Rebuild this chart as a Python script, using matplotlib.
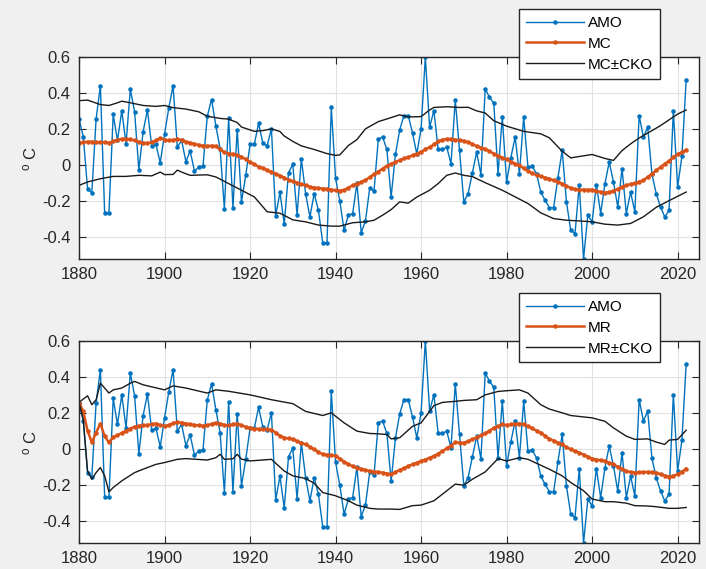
import numpy as np
import matplotlib
matplotlib.use("Agg")
import matplotlib.pyplot as plt
from matplotlib.ticker import FixedLocator

plt.rcParams['font.family'] = ['Liberation Sans', 'DejaVu Sans']
plt.rcParams['axes.unicode_minus'] = False
plt.rcParams['mathtext.default'] = 'regular'

# annual AMO index 1880-2022
years = np.arange(1880, 2023)
amo = [0.255, 0.157, -0.133, -0.157, 0.255, 0.44, -0.27, -0.27, 0.28, 0.135,
       0.30, 0.117, 0.42, 0.296, -0.028, 0.185, 0.305, 0.104, 0.113, 0.011,
       0.17, 0.317, 0.44, 0.098, 0.135, 0.018, 0.076, -0.035, -0.013, -0.007,
       0.27, 0.363, 0.218, 0.089, -0.244, 0.26, -0.24, 0.196, -0.207, -0.059,
       0.113, 0.113, 0.231, 0.12, 0.106, 0.2, -0.283, -0.154, -0.33, -0.044,
       0.002, -0.278, 0.033, -0.161, -0.291, -0.161, -0.254, -0.435, -0.435, 0.32,
       -0.074, -0.204, -0.365, -0.28, -0.272, -0.102, -0.378, -0.313, -0.128, -0.146,
       0.144, 0.154, 0.085, -0.18, 0.057, 0.194, 0.274, 0.274, 0.176, 0.061,
       0.2, 0.6, 0.209, 0.302, 0.085, 0.085, 0.098, 0.006, 0.361, 0.08,
       -0.207, -0.161, -0.044, 0.07, -0.056, 0.422, 0.376, 0.343, -0.05, 0.265,
       -0.096, 0.039, 0.154, -0.05, 0.265, -0.013, -0.009, -0.05, -0.152, -0.198,
       -0.239, -0.239, -0.074, 0.08, -0.207, -0.365, -0.383, -0.111, -0.525, -0.281,
       -0.318, -0.111, -0.272, -0.106, 0.015, -0.096, -0.235, -0.022, -0.272, -0.152,
       -0.263, 0.274, 0.154, 0.209, -0.054, -0.161, -0.235, -0.291, -0.254, 0.302,
       -0.124, 0.046, 0.472]

# MC curve (top panel)
mc = [0.120, 0.125, 0.128, 0.128, 0.125, 0.126, 0.125, 0.122, 0.130, 0.138,
      0.144, 0.144, 0.142, 0.135, 0.128, 0.122, 0.120, 0.125, 0.135, 0.148,
      0.140, 0.135, 0.138, 0.144, 0.136, 0.128, 0.122, 0.116, 0.110, 0.106,
      0.104, 0.106, 0.104, 0.085, 0.070, 0.062, 0.060, 0.052, 0.045, 0.030,
      0.015, 0.002, -0.010, -0.020, -0.030, -0.040, -0.050, -0.060, -0.072, -0.085,
      -0.093, -0.100, -0.108, -0.115, -0.122, -0.128, -0.130, -0.133, -0.134, -0.138,
      -0.143, -0.145, -0.140, -0.128, -0.115, -0.105, -0.095, -0.085, -0.070, -0.052,
      -0.038, -0.022, -0.006, 0.005, 0.015, 0.025, 0.035, 0.042, 0.052, 0.062,
      0.072, 0.085, 0.098, 0.113, 0.130, 0.138, 0.144, 0.143, 0.140, 0.135,
      0.132, 0.126, 0.115, 0.103, 0.095, 0.088, 0.075, 0.062, 0.050, 0.040,
      0.030, 0.018, 0.006, -0.004, -0.020, -0.035, -0.048, -0.058, -0.065, -0.072,
      -0.078, -0.087, -0.096, -0.105, -0.118, -0.130, -0.136, -0.140, -0.138, -0.140,
      -0.139, -0.145, -0.152, -0.156, -0.152, -0.146, -0.135, -0.124, -0.115, -0.108,
      -0.102, -0.095, -0.087, -0.068, -0.050, -0.032, -0.013, 0.005, 0.022, 0.042,
      0.058, 0.070, 0.083]

# MC +/- CKO band (top panel)
mc_up_years = [1880, 1882, 1885, 1887, 1889, 1890, 1892, 1895, 1898, 1900, 1902, 1905,
               1908, 1910, 1913, 1915, 1917, 1918, 1921, 1923, 1925, 1927, 1928, 1930,
               1932, 1935, 1938, 1940, 1941, 1943, 1945, 1947, 1950, 1952, 1955, 1957,
               1960, 1962, 1963, 1966, 1969, 1971, 1973, 1975, 1977, 1980, 1984, 1988,
               1990, 1993, 1995, 1997, 2000, 2003, 2005, 2007, 2009, 2011, 2014, 2016,
               2018, 2020, 2022]
mc_up = [0.357, 0.36, 0.335, 0.33, 0.345, 0.354, 0.345, 0.33, 0.325, 0.33, 0.318, 0.31,
         0.295, 0.27, 0.258, 0.254, 0.235, 0.21, 0.186, 0.19, 0.2, 0.185, 0.16, 0.13,
         0.105, 0.085, 0.062, 0.052, 0.055, 0.107, 0.14, 0.2, 0.24, 0.255, 0.278, 0.266,
         0.268, 0.305, 0.319, 0.323, 0.319, 0.32, 0.3, 0.288, 0.245, 0.215, 0.186, 0.172,
         0.15, 0.075, 0.038, 0.046, 0.057, 0.035, 0.024, 0.079, 0.116, 0.149, 0.19, 0.218,
         0.25, 0.282, 0.305]
mc_lo_years = [1880, 1882, 1885, 1888, 1891, 1894, 1897, 1899, 1900, 1902, 1903, 1904,
               1906, 1910, 1912, 1915, 1918, 1921, 1924, 1927, 1930, 1933, 1936, 1939,
               1941, 1944, 1947, 1949, 1951, 1953, 1955, 1957, 1959, 1962, 1964, 1966,
               1968, 1970, 1972, 1975, 1979, 1982, 1985, 1988, 1991, 1994, 1997, 2000,
               2003, 2006, 2009, 2012, 2015, 2018, 2020, 2022]
mc_lo = [-0.115, -0.096, -0.078, -0.065, -0.065, -0.059, -0.062, -0.041, -0.055, -0.054,
         -0.03, -0.041, -0.059, -0.056, -0.068, -0.105, -0.142, -0.179, -0.262, -0.27,
         -0.307, -0.318, -0.336, -0.342, -0.342, -0.323, -0.318, -0.309, -0.281, -0.25,
         -0.207, -0.214, -0.18, -0.142, -0.105, -0.059, -0.046, -0.059, -0.066, -0.1,
         -0.142, -0.179, -0.216, -0.268, -0.3, -0.309, -0.313, -0.318, -0.331, -0.336,
         -0.327, -0.29, -0.237, -0.2, -0.176, -0.152]

# MR curve (bottom panel)
mr = [0.255, 0.210, 0.100, 0.035, 0.090, 0.140, 0.070, 0.035, 0.065, 0.075,
      0.088, 0.100, 0.112, 0.123, 0.128, 0.130, 0.132, 0.136, 0.140, 0.132,
      0.126, 0.132, 0.142, 0.148, 0.145, 0.140, 0.136, 0.132, 0.130, 0.128,
      0.130, 0.138, 0.145, 0.140, 0.132, 0.130, 0.136, 0.140, 0.130, 0.122,
      0.116, 0.112, 0.110, 0.108, 0.108, 0.106, 0.090, 0.072, 0.062, 0.057,
      0.052, 0.042, 0.032, 0.024, 0.010, -0.004, -0.018, -0.031, -0.034, -0.035,
      -0.040, -0.055, -0.072, -0.087, -0.097, -0.105, -0.112, -0.118, -0.124, -0.127,
      -0.130, -0.133, -0.138, -0.142, -0.130, -0.118, -0.108, -0.097, -0.087, -0.078,
      -0.068, -0.060, -0.050, -0.041, -0.027, -0.013, 0.002, 0.018, 0.035, 0.034,
      0.033, 0.042, 0.052, 0.063, 0.074, 0.085, 0.100, 0.116, 0.126, 0.135,
      0.132, 0.135, 0.138, 0.140, 0.135, 0.125, 0.113, 0.101, 0.089, 0.072,
      0.055, 0.045, 0.034, 0.024, 0.010, -0.004, -0.013, -0.022, -0.033, -0.044,
      -0.055, -0.060, -0.064, -0.068, -0.078, -0.087, -0.100, -0.112, -0.124, -0.130,
      -0.133, -0.131, -0.130, -0.129, -0.131, -0.133, -0.142, -0.150, -0.155, -0.150,
      -0.142, -0.128, -0.111]

# MR +/- CKO band (bottom panel)
mr_up_years = [1880, 1882, 1883, 1884, 1885, 1886, 1887, 1888, 1890, 1892, 1893, 1895,
               1900, 1902, 1905, 1910, 1912, 1915, 1920, 1925, 1930, 1933, 1937, 1939,
               1942, 1945, 1948, 1950, 1952, 1953, 1955, 1958, 1960, 1963, 1965, 1968,
               1970, 1973, 1975, 1978, 1980, 1983, 1985, 1988, 1990, 1993, 1995, 1998,
               2000, 2003, 2005, 2008, 2010, 2013, 2015, 2017, 2018, 2020, 2022]
mr_up = [0.258, 0.295, 0.245, 0.273, 0.365, 0.338, 0.31, 0.328, 0.338, 0.365, 0.375, 0.356,
         0.328, 0.35, 0.338, 0.31, 0.328, 0.32, 0.3, 0.273, 0.251, 0.208, 0.185, 0.2,
         0.144, 0.098, 0.085, 0.083, 0.079, 0.055, 0.061, 0.125, 0.144, 0.24, 0.258, 0.264,
         0.269, 0.273, 0.3, 0.319, 0.323, 0.328, 0.31, 0.245, 0.221, 0.2, 0.185, 0.177,
         0.172, 0.153, 0.116, 0.07, 0.052, 0.055, 0.037, 0.024, 0.048, 0.052, 0.103]
mr_lo_years = [1880, 1881, 1882, 1883, 1884, 1885, 1886, 1887, 1888, 1890, 1893, 1895,
               1898, 1900, 1903, 1905, 1910, 1912, 1913, 1914, 1916, 1917, 1918, 1920,
               1925, 1928, 1930, 1933, 1935, 1937, 1940, 1943, 1945, 1948, 1950, 1953,
               1955, 1958, 1960, 1963, 1965, 1968, 1970, 1972, 1975, 1978, 1980, 1983,
               1985, 1988, 1990, 1993, 1995, 1998, 2000, 2003, 2005, 2008, 2010, 2013,
               2015, 2018, 2020, 2022]
mr_lo = [0.258, 0.162, -0.124, -0.17, -0.133, -0.105, -0.151, -0.24, -0.216, -0.179,
         -0.133, -0.114, -0.087, -0.077, -0.059, -0.055, -0.063, -0.05, -0.031, -0.059,
         -0.056, -0.031, -0.058, -0.068, -0.059, -0.124, -0.151, -0.166, -0.192, -0.244,
         -0.262, -0.29, -0.314, -0.332, -0.336, -0.336, -0.338, -0.317, -0.314, -0.29,
         -0.253, -0.197, -0.203, -0.17, -0.129, -0.055, -0.068, -0.05, -0.059, -0.092,
         -0.114, -0.151, -0.188, -0.234, -0.28, -0.295, -0.295, -0.303, -0.317, -0.319,
         -0.323, -0.332, -0.332, -0.327]

blue = '#0072BD'
orange = '#D95319'
fig_bg = '#f0f0f0'

fig = plt.figure(figsize=(7.06, 5.69), dpi=100, facecolor=fig_bg)
ax1 = fig.add_axes([79 / 706, 1 - 259 / 569, 620 / 706, 202 / 569])
ax2 = fig.add_axes([79 / 706, 1 - 543 / 569, 620 / 706, 202 / 569])

panels = [
    (ax1, mc, mc_up_years, mc_up, mc_lo_years, mc_lo, 'MC', 'MC±CKO', 1 - 9 / 569),
    (ax2, mr, mr_up_years, mr_up, mr_lo_years, mr_lo, 'MR', 'MR±CKO', 1 - 293 / 569),
]

for ax, curve, uy, up, ly, lo, name, band_name, leg_top in panels:
    h1, = ax.plot(years, amo, '.-', color=blue, lw=1.0, ms=4.5, label='AMO')
    h2, = ax.plot(years, curve, '.-', color=orange, lw=1.8, ms=4.5, label=name)
    h3, = ax.plot(uy, up, '-', color='#1a1a1a', lw=1.0, label=band_name)
    ax.plot(ly, lo, '-', color='#1a1a1a', lw=1.0)

    ax.set_xlim(1880, 2025)
    ax.set_ylim(-0.525, 0.6)
    ax.xaxis.set_major_locator(FixedLocator(range(1880, 2021, 20)))
    ax.set_yticks([-0.4, -0.2, 0, 0.2, 0.4, 0.6])
    ax.set_yticklabels(['-0.4', '-0.2', '0', '0.2', '0.4', '0.6'])
    ax.grid(True, color='#e2e2e2', lw=0.8)
    ax.set_axisbelow(True)
    ax.tick_params(direction='in', length=5, width=0.8, top=True, right=True,
                   labelsize=12, colors='#262626', pad=6)
    for sp in ax.spines.values():
        sp.set_color('#262626')
        sp.set_linewidth(1.0)
    ax.set_ylabel('$^{o}$ C', fontsize=12, color='#262626', labelpad=2)

    fig.legend(handles=[h1, h2, h3], loc='upper left',
               bbox_to_anchor=(519 / 706, leg_top), bbox_transform=fig.transFigure,
               fontsize=11, frameon=True, fancybox=False, framealpha=1,
               edgecolor='#262626', handlelength=3.8, handletextpad=0.25,
               labelspacing=0.45, borderpad=0.45, borderaxespad=0)

for leg in fig.legends:
    leg.get_frame().set_linewidth(1.0)

fig.savefig('out.png', dpi=100, facecolor=fig_bg)
